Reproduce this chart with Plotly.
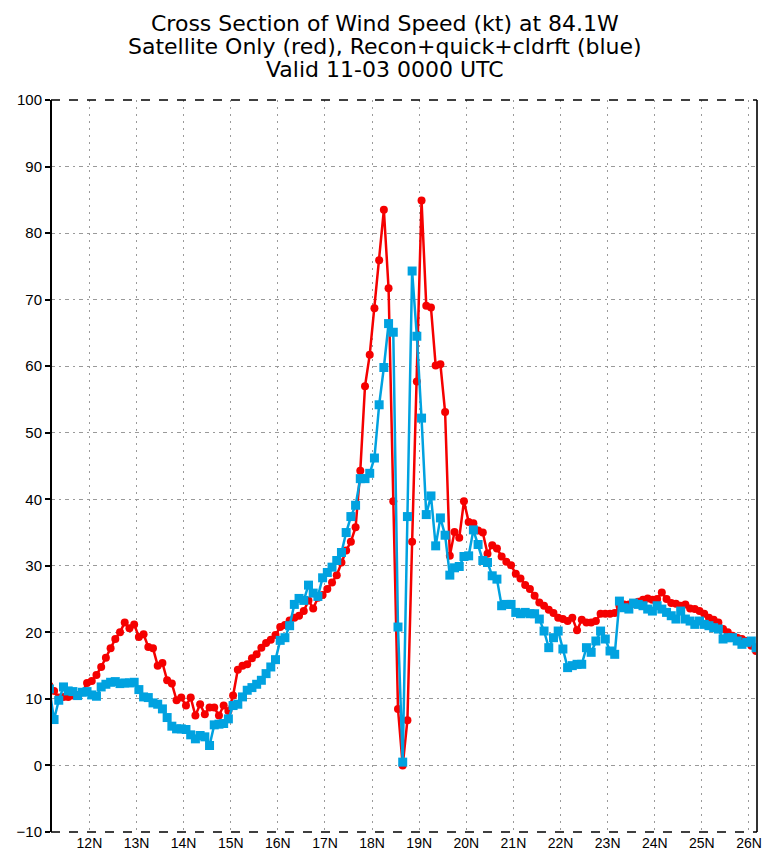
import numpy as np
import plotly.graph_objects as go

# Latitude grid (deg N), one value every 0.1 deg
lat = np.round(np.arange(11.15, 26.151, 0.1), 2)

# Satellite Only (red)
sat_only = [
    12.0, 11.2, 10.2, 10.3, 10.3, 10.5, 10.6, 11.0, 12.4, 12.7,   # 11.15-12.05
    13.6, 14.8, 16.2, 17.6, 19.0, 20.0, 21.5, 20.6, 21.2, 19.3,   # 12.15-13.05
    19.7, 17.8, 17.6, 15.0, 15.4, 12.8, 12.3, 9.8, 10.2, 9.0,     # 13.15-14.05
    10.2, 7.5, 9.2, 7.7, 8.7, 8.7, 7.5, 9.0, 8.2, 10.5,           # 14.15-15.05
    14.4, 15.0, 15.2, 16.1, 16.7, 17.7, 18.4, 18.9, 19.6, 20.8,   # 15.15-16.05
    21.1, 21.8, 22.2, 22.5, 23.2, 24.8, 23.6, 25.2, 25.6, 26.5,   # 16.15-17.05
    27.5, 28.6, 30.5, 32.3, 33.6, 35.8, 44.3, 57.0, 61.7, 68.7,   # 17.15-18.05
    75.9, 83.5, 71.7, 39.7, 8.5, 0.0, 6.8, 33.6, 57.7, 84.9,      # 18.15-19.05
    69.1, 68.8, 60.1, 60.3, 53.1, 31.5, 35.1, 34.2, 39.7, 36.6,   # 19.15-20.05
    36.4, 35.3, 35.0, 31.8, 33.1, 32.6, 31.4, 30.6, 30.1, 28.8,   # 20.15-21.05
    28.1, 27.1, 26.5, 25.5, 24.5, 24.0, 23.4, 22.9, 22.2, 22.0,   # 21.15-22.05
    21.7, 22.2, 20.3, 21.9, 21.5, 21.5, 21.7, 22.8, 22.8, 22.8,   # 22.15-23.05
    22.9, 24.0, 24.2, 24.2, 24.3, 24.6, 24.9, 25.1, 24.9, 25.0,   # 23.15-24.05
    26.0, 25.0, 24.4, 24.3, 24.0, 24.2, 23.6, 23.5, 23.2, 22.8,   # 24.15-25.05
    22.2, 21.9, 21.5, 20.5, 20.0, 19.5, 19.2, 19.0, 18.7, 18.0,   # 25.15-26.05
    17.2,                                                          # 26.15
]

# Recon+quick+cldrft (blue)
recon = [
    11.5, 6.9, 9.8, 11.8, 11.2, 11.1, 10.5, 11.0, 11.1, 10.6,     # 11.15-12.05
    10.4, 11.8, 12.2, 12.5, 12.6, 12.3, 12.4, 12.4, 12.5, 11.4,   # 12.15-13.05
    10.3, 10.2, 9.4, 9.2, 8.5, 7.2, 5.9, 5.5, 5.5, 5.4,           # 13.15-14.05
    4.6, 4.0, 4.5, 4.3, 3.0, 6.1, 6.2, 6.3, 7.0, 9.0,             # 14.15-15.05
    9.2, 10.3, 11.3, 11.7, 12.2, 12.8, 13.8, 14.8, 15.9, 18.8,    # 15.15-16.05
    19.2, 21.0, 24.2, 25.1, 24.8, 27.1, 25.9, 25.4, 28.2, 29.0,   # 16.15-17.05
    29.8, 30.8, 32.0, 35.0, 37.4, 39.1, 43.1, 43.1, 43.9, 46.2,   # 17.15-18.05
    54.2, 59.8, 66.4, 65.1, 20.8, 0.5, 37.4, 74.3, 64.5, 52.2,    # 18.15-19.05
    37.7, 40.5, 33.0, 37.2, 34.6, 28.6, 29.7, 29.9, 31.4, 31.5,   # 19.15-20.05
    35.4, 33.2, 30.8, 30.5, 28.5, 28.0, 24.0, 24.2, 24.2, 23.0,   # 20.15-21.05
    22.8, 23.0, 22.8, 22.8, 22.0, 20.2, 17.7, 19.2, 20.2, 17.5,   # 21.15-22.05
    14.7, 15.0, 15.2, 15.2, 17.7, 17.0, 18.7, 20.2, 19.0, 17.2,   # 22.15-23.05
    16.7, 24.7, 23.7, 23.5, 24.4, 24.2, 24.0, 23.5, 23.2, 24.0,   # 23.15-24.05
    23.5, 23.0, 22.5, 22.0, 23.2, 22.0, 21.7, 21.2, 21.7, 21.2,   # 24.15-25.05
    21.0, 20.7, 20.5, 19.0, 19.2, 19.2, 18.7, 18.2, 18.5, 18.7,   # 25.15-26.05
    17.7,                                                          # 26.15
]

x_ticks = list(range(12, 27))
x_tick_labels = [f"{v}N" for v in x_ticks]
y_ticks = list(range(-10, 101, 10))

title_lines = [
    "Cross Section of Wind Speed (kt) at 84.1W",
    "Satellite Only (red), Recon+quick+cldrft (blue)",
    "Valid 11-03 0000 UTC",
]

RED = "#f50000"
BLUE = "#00a2e0"
X0, X1 = 11.185, 26.17
Y0, Y1 = -10, 100
TICK_FONT = "Liberation Sans, Arial"

fig = go.Figure()
fig.add_trace(go.Scatter(
    x=lat, y=sat_only, mode="lines+markers",
    line=dict(color=RED, width=2.5),
    marker=dict(symbol="circle", size=8, color=RED),
    name="Satellite Only",
))
fig.add_trace(go.Scatter(
    x=lat, y=recon, mode="lines+markers",
    line=dict(color=BLUE, width=2.5),
    marker=dict(symbol="square", size=9, color=BLUE),
    name="Recon+quick+cldrft",
))

# frame: solid left/right, dashed top/bottom
fig.add_shape(type="line", xref="paper", yref="paper", x0=0, x1=0, y0=0, y1=1,
              line=dict(color="black", width=2))
fig.add_shape(type="line", xref="paper", yref="paper", x0=1, x1=1, y0=0, y1=1,
              line=dict(color="#333333", width=2))
fig.add_shape(type="line", xref="paper", yref="paper", x0=0, x1=1, y0=1, y1=1,
              line=dict(color="black", width=1.5, dash="dash"))
fig.add_shape(type="line", xref="paper", yref="paper", x0=0, x1=1, y0=0, y1=0,
              line=dict(color="black", width=1.5, dash="dash"))

# page has an 8px body margin: the figure starts at (8, 8)
OFF = 8
W, H = 771 - OFF, 860 - OFF
ml, mr, mt, mb = 48 - OFF, 9, 100 - OFF, 25
pw, ph = W - ml - mr, H - mt - mb
title_y_px = [23 - OFF, 46 - OFF, 69 - OFF]
for t, py in zip(title_lines, title_y_px):
    fig.add_annotation(
        text=t, xref="paper", yref="paper",
        x=(771 / 2 - OFF - ml) / pw, y=(H - mb - py) / ph,
        xanchor="center", yanchor="middle", showarrow=False,
        borderpad=0,
        font=dict(family="DejaVu Sans", size=22, color="black"),
    )

fig.update_layout(
    width=W, height=H,
    margin=dict(l=ml, r=mr, t=mt, b=mb),
    paper_bgcolor="white", plot_bgcolor="white",
    showlegend=False,
    font=dict(family=TICK_FONT, size=15, color="black"),
    xaxis=dict(
        range=[X0, X1], tickmode="array", tickvals=x_ticks, ticktext=x_tick_labels,
        showgrid=True, gridcolor="#9a9a9a", gridwidth=1, griddash="2px,5px",
        zeroline=False, showline=False, ticks="", ticklabelstandoff=1,
        tickfont=dict(size=14),
    ),
    yaxis=dict(
        range=[Y0, Y1], tickmode="array", tickvals=y_ticks,
        showgrid=True, gridcolor="#9a9a9a", gridwidth=1, griddash="4px,4px,2px,4px",
        zeroline=False, showline=False, ticks="outside", ticklen=5,
        tickcolor="black", tickwidth=2,
        tickfont=dict(size=15),
    ),
)

fig.write_html("out.html")
